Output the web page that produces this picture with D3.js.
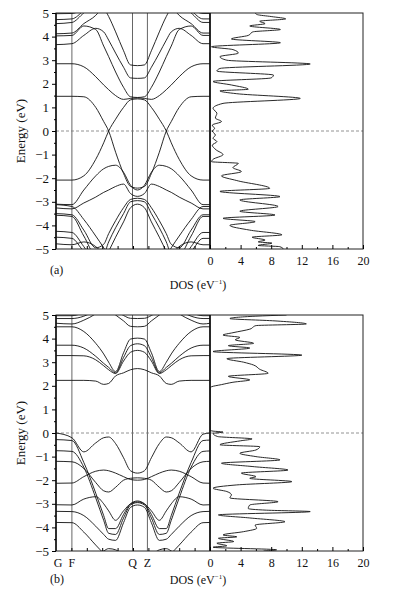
<!DOCTYPE html>
<html>
<head>
<meta charset="utf-8">
<script src="https://cdn.jsdelivr.net/npm/d3@7"></script>
<style>
body { margin: 0; background: #fff; }
svg text { font-family: "Liberation Serif", "DejaVu Serif", serif !important; fill: #111; }
</style>
</head>
<body>
<svg id="chart" width="396" height="598"></svg>
<script>
// k-path positions (path length) and high-symmetry points
const kGrid = [0,16,28,40,48,53,60,68,75,82,89,96,104,111,116,124,136,148,155];
const kTicks = [0,16,77,92];
const kLabels = ["G","F","Q","Z"];
const eTicks = [-5,-4,-3,-2,-1,0,1,2,3,4,5];
const dosTicks = [0,4,8,12,16,20];

// (a) band energies (eV) on kGrid
const bandsA = [
  [1.47,1.47,1.45,1.0,0.4,0.0,-0.9,-1.8,-2.35,-2.42,-2.35,-1.8,-0.9,0.0,0.4,1.0,1.45,1.47,1.47],
  [-2.08,-2.08,-1.9,-1.2,-0.5,0.0,0.5,1.0,1.32,1.36,1.32,1.0,0.5,0.0,-0.5,-1.2,-1.9,-2.08,-2.08],
  [-3.1,-3.12,-2.5,-1.9,-1.6,-1.5,-1.45,-1.75,-2.3,-2.5,-2.3,-1.75,-1.45,-1.5,-1.6,-1.9,-2.5,-3.12,-3.12],
  [-3.26,-3.3,-3.05,-2.8,-2.6,-2.5,-2.35,-2.25,-2.65,-2.77,-2.65,-2.25,-2.35,-2.5,-2.6,-2.8,-3.05,-3.3,-3.3],
  [-3.5,-3.55,-4.2,-4.95,-4.8,-4.35,-3.8,-3.25,-2.9,-2.85,-2.9,-3.25,-3.8,-4.35,-4.8,-4.95,-4.2,-3.55,-3.55],
  [-3.57,-3.62,-4.45,-5.25,-5.2,-4.7,-4.1,-3.5,-3.0,-2.95,-3.0,-3.5,-4.1,-4.7,-5.2,-5.25,-4.45,-3.62,-3.62],
  [-4.25,-4.3,-4.9,-5.6,-5.5,-5.1,-4.5,-3.85,-3.25,-3.1,-3.25,-3.85,-4.5,-5.1,-5.5,-5.6,-4.9,-4.3,-4.3],
  [-3.12,-3.2,-3.75,-4.45,-4.95,-5.3,-5.6,-5.8,-5.8,-5.8,-5.8,-5.8,-5.6,-5.3,-4.95,-4.45,-3.75,-3.2,-3.2],
  [-4.5,-4.55,-5.1,-5.5,-5.8,-5.8,-5.8,-5.8,-5.8,-5.8,-5.8,-5.8,-5.8,-5.8,-5.8,-5.5,-5.1,-4.55,-4.55],
  [-4.78,-4.82,-4.7,-4.9,-5.3,-5.8,-5.8,-5.8,-5.8,-5.8,-5.8,-5.8,-5.8,-5.8,-5.3,-4.9,-4.7,-4.82,-4.82],
  [2.85,2.85,2.72,2.3,1.95,1.75,1.5,1.34,1.38,1.4,1.38,1.34,1.5,1.75,1.95,2.3,2.72,2.85,2.85],
  [4.03,4.05,4.45,4.3,3.6,3.15,2.5,1.85,1.45,1.42,1.45,1.85,2.5,3.15,3.6,4.3,4.45,4.05,4.05],
  [3.66,3.7,4.05,4.35,4.2,3.85,3.3,2.7,2.25,2.23,2.25,2.7,3.3,3.85,4.2,4.35,4.05,3.7,3.7],
  [4.55,4.6,5.0,5.35,5.2,4.85,4.2,3.4,2.8,2.77,2.8,3.4,4.2,4.85,5.2,5.35,5.0,4.6,4.6],
  [4.12,4.15,4.55,4.9,5.3,5.6,5.8,5.8,5.8,5.8,5.8,5.8,5.8,5.6,5.3,4.9,4.55,4.15,4.15],
  [4.72,4.75,5.1,5.5,5.8,5.8,5.8,5.8,5.8,5.8,5.8,5.8,5.8,5.8,5.8,5.5,5.1,4.75,4.75],
  [4.97,4.98,5.2,5.6,5.8,5.8,5.8,5.8,5.8,5.8,5.8,5.8,5.8,5.8,5.8,5.6,5.2,4.98,4.98]
];

// (b) band energies (eV) on kGrid
const bandsB = [
  [2.23,2.23,2.23,2.2,2.06,2.1,2.42,2.55,2.68,2.73,2.68,2.55,2.42,2.1,2.06,2.2,2.23,2.23,2.23],
  [3.28,3.28,3.27,3.1,2.85,2.68,2.52,3.05,3.42,3.5,3.42,3.05,2.52,2.68,2.85,3.1,3.27,3.28,3.28],
  [3.72,3.72,3.6,3.25,2.95,2.78,2.55,3.2,3.7,3.78,3.7,3.2,2.55,2.78,2.95,3.25,3.6,3.72,3.72],
  [4.5,4.5,4.3,3.8,3.35,3.0,2.6,3.4,3.98,4.02,3.98,3.4,2.6,3.0,3.35,3.8,4.3,4.5,4.5],
  [5.6,5.6,5.6,5.5,5.35,5.2,5.0,4.75,4.52,4.5,4.52,4.75,5.0,5.2,5.35,5.5,5.6,5.6,5.6],
  [5.9,5.9,5.9,5.8,5.6,5.45,5.2,4.98,4.86,4.85,4.86,4.98,5.2,5.45,5.6,5.8,5.9,5.9,5.9],
  [4.97,4.97,5.1,5.3,5.5,5.6,5.7,5.8,5.9,5.9,5.9,5.8,5.7,5.6,5.5,5.3,5.1,4.97,4.97],
  [4.85,4.85,4.95,5.2,5.4,5.5,5.6,5.7,5.8,5.8,5.8,5.7,5.6,5.5,5.4,5.2,4.95,4.85,4.85],
  [4.65,4.62,4.78,5.05,5.3,5.4,5.5,5.6,5.7,5.7,5.7,5.6,5.5,5.4,5.3,5.05,4.78,4.62,4.65],
  [0.0,-0.2,-0.8,-0.42,-0.2,-0.17,-0.45,-1.05,-1.6,-1.7,-1.6,-1.05,-0.45,-0.17,-0.2,-0.42,-0.8,-0.05,0.0],
  [-0.28,-0.32,-1.25,-2.55,-3.5,-4.05,-4.05,-3.45,-3.0,-2.88,-3.0,-3.45,-4.05,-4.05,-3.5,-2.55,-1.25,-0.32,-0.3],
  [-0.75,-0.78,-1.45,-2.75,-3.7,-4.25,-4.3,-3.6,-3.05,-2.95,-3.05,-3.6,-4.3,-4.25,-3.7,-2.75,-1.45,-0.78,-0.76],
  [-1.2,-1.22,-1.5,-2.1,-2.45,-2.5,-2.3,-2.0,-1.92,-1.9,-1.92,-2.0,-2.3,-2.5,-2.45,-2.1,-1.5,-1.22,-1.2],
  [-2.13,-2.12,-1.85,-1.62,-1.57,-1.6,-1.7,-1.85,-1.97,-2.0,-1.97,-1.85,-1.7,-1.6,-1.57,-1.62,-1.85,-2.12,-2.13],
  [-3.04,-3.05,-2.8,-2.7,-3.0,-3.3,-3.7,-3.3,-3.0,-2.92,-3.0,-3.3,-3.7,-3.3,-3.0,-2.7,-2.8,-3.05,-3.04],
  [-3.32,-3.33,-3.5,-3.95,-4.3,-4.5,-4.55,-3.8,-3.15,-3.05,-3.15,-3.8,-4.55,-4.5,-4.3,-3.95,-3.5,-3.33,-3.32],
  [-3.79,-3.8,-4.2,-4.75,-5.1,-5.3,-5.5,-5.6,-5.6,-5.6,-5.6,-5.6,-5.5,-5.3,-5.1,-4.75,-4.2,-3.8,-3.79],
  [-5.6,-5.6,-5.5,-5.2,-5.0,-4.9,-4.95,-5.2,-5.5,-5.6,-5.5,-5.2,-4.95,-4.9,-5.0,-5.2,-5.5,-5.6,-5.6]
];

// (a) density of states
const dosEA = [5.0,4.93,4.85,4.75,4.65,4.55,4.45,4.3,4.2,4.05,3.9,3.74,3.57,3.45,3.3,3.15,3.0,2.84,2.65,2.54,2.37,2.25,2.1,1.95,1.77,1.7,1.58,1.38,1.17,0.96,0.75,0.55,0.4,0.25,0.1,0.0,-0.17,-0.31,-0.45,-0.6,-0.8,-1.0,-1.2,-1.3,-1.37,-1.55,-1.72,-1.9,-2.1,-2.43,-2.56,-2.78,-2.92,-3.2,-3.4,-3.56,-3.7,-3.84,-4.0,-4.2,-4.4,-4.5,-4.62,-4.7,-4.75,-4.85,-4.9,-5.0];
const dosA  = [5.9,6.2,8.0,9.9,6.5,7.2,5.2,9.2,5.6,5.0,2.8,9.2,0.2,3.0,3.7,1.3,2.2,13.1,1.3,0.9,8.3,8.0,0.4,2.8,5.0,1.3,3.5,11.8,1.7,0.4,0.9,0.7,1.5,0.3,0.6,0.3,0.7,0.4,0.9,0.3,0.8,1.7,0.4,0.2,3.7,3.0,4.1,1.5,3.5,7.8,1.3,9.15,3.9,8.9,3.9,8.5,1.7,5.9,2.6,5.2,9.4,5.5,7.2,6.3,8.1,6.3,9.1,9.6];

// (b) density of states
const dosEB = [5.0,4.95,4.85,4.75,4.62,4.55,4.4,4.25,4.15,4.05,3.95,3.8,3.7,3.6,3.45,3.3,3.15,3.0,2.88,2.7,2.53,2.4,2.25,2.15,2.05,1.96,1.9,0.12,0.08,0.04,-0.02,-0.15,-0.25,-0.33,-0.5,-0.58,-0.72,-0.86,-1.0,-1.14,-1.28,-1.42,-1.57,-1.7,-1.85,-1.92,-2.06,-2.2,-2.34,-2.48,-2.62,-2.75,-2.91,-3.05,-3.2,-3.27,-3.33,-3.47,-3.6,-3.76,-3.9,-4.04,-4.18,-4.32,-4.4,-4.46,-4.6,-4.67,-4.78,-4.84,-4.95,-5.0];
const dosB  = [10.0,6.0,2.6,8.5,12.6,6.0,5.2,3.0,1.7,3.9,3.3,5.7,2.4,5.2,0.4,12.0,2.2,4.4,5.7,6.5,7.6,2.4,5.2,3.0,1.5,0.2,0,0,0.4,1.7,0.4,1.0,5.5,4.0,1.3,6.5,6.0,3.9,6.0,9.15,1.5,5.5,10.2,4.1,6.0,5.2,10.7,3.5,0.4,2.2,2.8,2.6,8.9,5.2,5.0,7.4,13.1,1.1,5.2,9.8,5.9,6.1,4.4,1.7,3.5,1.1,3.1,0.9,2.2,0.4,8.7,7.0];

const svg = d3.select("#chart");
const xBandL = 56, xBandR = 210, xDosR = 363;
const serif = '"Liberation Serif", "DejaVu Serif", serif';
const fs = 12;

function fmtE(d) { return d < 0 ? "\u2212" + (-d) : String(d); }

function panel(id, top, bottom, bands, dosE, dos, showK, tag, tagX, tagY, tickY, dosLabelY) {
  const x = d3.scaleLinear().domain([0, 155]).range([xBandL, xBandR]);
  const xd = d3.scaleLinear().domain([0, 20]).range([xBandR, xDosR]);
  const y = d3.scaleLinear().domain([-5, 5]).range([bottom, top]);
  const g = svg.append("g").style("font-family", serif);

  const defs = g.append("defs");
  defs.append("clipPath").attr("id", "band" + id).append("rect")
    .attr("x", xBandL).attr("y", top).attr("width", xBandR - xBandL).attr("height", bottom - top);
  defs.append("clipPath").attr("id", "dos" + id).append("rect")
    .attr("x", xBandR).attr("y", top).attr("width", xDosR - xBandR).attr("height", bottom - top);

  // high-symmetry vertical lines
  g.append("g").selectAll("line").data(kTicks.slice(1)).join("line")
    .attr("x1", d => x(d)).attr("x2", d => x(d))
    .attr("y1", top).attr("y2", bottom)
    .attr("stroke", "#666").attr("stroke-width", 1);

  // Fermi level
  g.append("line")
    .attr("x1", xBandL).attr("x2", xDosR).attr("y1", y(0)).attr("y2", y(0))
    .attr("stroke", "#777").attr("stroke-width", 0.8).attr("stroke-dasharray", "3,2");

  // bands
  const line = d3.line()
    .curve(d3.curveMonotoneX)
    .x((d, i) => x(kGrid[i]))
    .y(d => y(d));
  g.append("g").attr("clip-path", `url(#band${id})`)
    .selectAll("path").data(bands).join("path")
    .attr("d", line)
    .attr("fill", "none").attr("stroke", "#111").attr("stroke-width", 0.9);

  // DOS
  const dline = d3.line()
    .curve(d3.curveMonotoneY)
    .x((d, i) => xd(dos[i]))
    .y(d => y(d));
  g.append("path").attr("clip-path", `url(#dos${id})`)
    .attr("d", dline(dosE))
    .attr("fill", "none").attr("stroke", "#111").attr("stroke-width", 0.9);

  // frames
  g.append("rect").attr("x", xBandL).attr("y", top)
    .attr("width", xDosR - xBandL).attr("height", bottom - top)
    .attr("fill", "none").attr("stroke", "#222").attr("stroke-width", 1);
  g.append("line").attr("x1", xBandL).attr("x2", xBandL).attr("y1", top).attr("y2", bottom)
    .attr("stroke", "#111").attr("stroke-width", 1.5);
  g.append("line").attr("x1", xBandR).attr("x2", xBandR).attr("y1", top).attr("y2", bottom)
    .attr("stroke", "#111").attr("stroke-width", 1.8);

  // left energy axis
  const yAxis = g.append("g").attr("transform", `translate(${xBandL},0)`)
    .call(d3.axisLeft(y).tickValues(eTicks).tickSize(4).tickPadding(3).tickFormat(fmtE));
  yAxis.attr("font-family", serif);
  yAxis.select(".domain").remove();
  yAxis.selectAll("text").attr("font-size", fs + 1).style("font-family", serif);
  g.append("g").attr("transform", `translate(${xBandL},0)`)
    .call(d3.axisLeft(y).tickValues(d3.range(-4.5, 5, 1)).tickSize(2).tickFormat(""))
    .select(".domain").remove();

  // small ticks along band bottom
  g.append("g").attr("transform", `translate(0,${bottom})`)
    .call(d3.axisBottom(x).tickValues(d3.range(15.5, 155, 15.5)).tickSize(-3).tickFormat(""))
    .select(".domain").remove();

  // DOS axis
  const dAxis = g.append("g").attr("transform", `translate(0,${bottom})`)
    .call(d3.axisBottom(xd).tickValues(dosTicks).tickSize(-4).tickPadding(7));
  dAxis.attr("font-family", serif);
  dAxis.select(".domain").remove();
  dAxis.selectAll("text").attr("font-size", fs).style("font-family", serif);
  g.append("g").attr("transform", `translate(0,${bottom})`)
    .call(d3.axisBottom(xd).tickValues([2, 6, 10, 14, 18]).tickSize(-2).tickFormat(""))
    .select(".domain").remove();

  if (showK) {
    g.append("g").selectAll("text").data(kTicks).join("text")
      .attr("x", (d, i) => x(d) + (i === 0 ? 2 : 0)).attr("y", tickY)
      .attr("text-anchor", "middle").attr("font-size", fs)
      .style("font-family", serif)
      .text((d, i) => kLabels[i]);
  }

  // axis titles
  g.append("text")
    .attr("transform", `translate(25,${(top + bottom) / 2}) rotate(-90)`)
    .attr("text-anchor", "middle").attr("font-size", fs + 1)
    .style("font-family", serif)
    .text("Energy (eV)");
  const dl = g.append("text").attr("x", 198).attr("y", dosLabelY)
    .attr("text-anchor", "middle").attr("font-size", fs)
    .style("font-family", serif);
  dl.append("tspan").text("DOS (eV");
  dl.append("tspan").attr("font-size", 7).attr("dy", -5).text("\u22121");
  dl.append("tspan").attr("dy", 5).text(")");
  g.append("text").attr("x", tagX).attr("y", tagY).attr("font-size", fs)
    .style("font-family", serif).text(tag);
}

panel("a", 13, 249, bandsA, dosEA, dosA, false, "(a)", 50, 274, 266, 289);
panel("b", 315, 551, bandsB, dosEB, dosB, true, "(b)", 50, 583, 567, 584);
</script>
</body>
</html>
